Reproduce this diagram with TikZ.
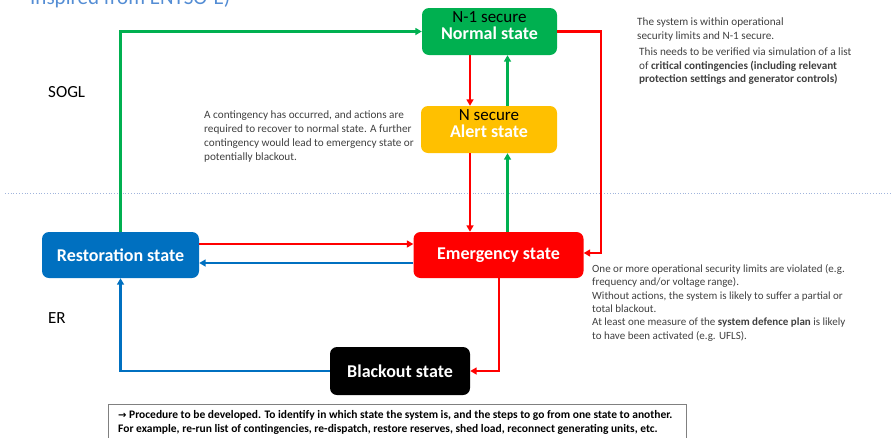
\documentclass[tikz,border=0pt]{standalone}
\usepackage{fontspec}
\setmainfont{Carlito}
\usetikzlibrary{arrows.meta}
\definecolor{cgreen}{RGB}{0,176,80}
\definecolor{cyellow}{RGB}{255,192,0}
\definecolor{cred}{RGB}{255,0,0}
\definecolor{cblue}{RGB}{0,112,192}
\definecolor{ctitle}{RGB}{84,141,212}
\definecolor{cdot}{RGB}{160,180,220}
\definecolor{ctext}{RGB}{64,64,64}
\tikzset{
  statebox/.style={rounded corners=7pt, minimum width=#1, inner sep=0pt},
  topline/.style={font=\fontsize{17}{17}\selectfont, text=black, inner sep=0pt},
  mainline/.style={font=\fontsize{18}{18}\selectfont\bfseries, text=white, inner sep=0pt},
  desc/.style={font=\fontsize{11.2}{13.4}\selectfont, text=ctext, align=left, anchor=north west, inner sep=0pt},
  sidelabel/.style={anchor=west, inner sep=0pt, font=\fontsize{17}{17}\selectfont},
  conn/.style={line width=2.2pt, -{Triangle[length=6.5pt,width=7pt]}},
}
\begin{document}
\begin{tikzpicture}[x=1pt,y=-1pt]
\useasboundingbox (0,0) rectangle (892,437);

% title (cut at top, as in the reference)
\node[anchor=base west, inner sep=0pt, text=ctitle, font=\fontsize{21}{21}\selectfont] (title) at (30,4) {Inspired from ENTSO-E)};

% dotted separator
\coordinate (sepL) at (5,193);
\coordinate (sepR) at (892,193);
\draw[cdot, line width=0.8pt, dotted] (sepL) -- (sepR);

% labels
\node[sidelabel] (sogl) at (48,92) {SOGL};
\node[sidelabel] (er) at (48,318) {ER};

% state boxes
\node[statebox=135pt, minimum height=47pt, fill=cgreen] (normal) at (489.5,31.5) {};
\node[topline] (normalA) at ([yshift=-9.5pt]normal.north) {N-1 secure};
\node[mainline] (normalB) at ([yshift=-25pt]normal.north) {Normal state};

\node[statebox=136pt, minimum height=47pt, fill=cyellow] (alert) at (489,129.5) {};
\node[topline] (alertA) at ([yshift=-9.5pt]alert.north) {N secure};
\node[mainline] (alertB) at ([yshift=-25pt]alert.north) {Alert state};

\node[statebox=170pt, minimum height=46pt, fill=cred] (emer) at (498.5,255) {};
\node[mainline] (emerT) at (emer.center) {Emergency state};

\node[statebox=157pt, minimum height=46pt, fill=cblue] (rest) at (120.5,255) {};
\node[mainline] (restT) at (rest.center) {Restoration state};

\node[statebox=140pt, minimum height=48pt, fill=black] (black) at (400,371) {};
\node[mainline] (blackT) at (black.center) {Blackout state};

% helper coordinates
\coordinate (xr) at (470,0);
\coordinate (xg) at (507.5,0);
\coordinate (xrr) at (601,0);
\coordinate (xb) at (499,0);
\coordinate (yr) at (0,244);
\coordinate (yb) at (0,263);
\coordinate (ye) at (0,253);

% connectors
\draw[conn, cgreen] (rest.north) |- (normal.west);
\draw[conn, cred] (normal.south -| xr) -- (alert.north -| xr);
\draw[conn, cgreen] (alert.north -| xg) -- (normal.south -| xg);
\draw[conn, cred] (alert.south -| xr) -- (emer.north -| xr);
\draw[conn, cgreen] (emer.north -| xg) -- (alert.south -| xg);
\draw[conn, cred] (normal.east) -| (xrr |- ye) -- (emer.east |- ye);
\draw[conn, cred] (rest.east |- yr) -- (emer.west |- yr);
\draw[conn, cblue] (emer.west |- yb) -- (rest.east |- yb);
\draw[conn, cred] (emer.south -| xb) |- (black.east);
\draw[conn, cblue] (black.west) -| (rest.south);

% descriptions
\node[desc] (d1) at (637,18) {The system is within operational\\security limits and N-1 secure.};
\node[desc] (d2) at (639,48) {This needs to be verified via simulation of a list\\of \textbf{critical contingencies (including relevant}\\\textbf{protection settings and generator controls)}};
\node[desc, font=\fontsize{11.2}{14}\selectfont] (d3) at (204,111) {A contingency has occurred, and actions are\\required to recover to normal state. A further\\contingency would lead to emergency state or\\potentially blackout.};
\node[desc, font=\fontsize{11}{13.4}\selectfont] (d4) at (592,264) {One or more operational security limits are violated (e.g.\\frequency and/or voltage range).\\Without actions, the system is likely to suffer a partial or\\total blackout.\\At least one measure of the \textbf{system defence plan} is likely\\to have been activated (e.g. UFLS).};

% bottom box
\draw[gray, line width=0.8pt] (108,404) rectangle (686,450);
\node[desc, text=black, font=\fontsize{11.5}{14}\selectfont\bfseries] (proc) at (118,410) {{\fontspec{DejaVu Sans}\fontsize{10}{14}\selectfont →} Procedure to be developed. To identify in which state the system is, and the steps to go from one state to another.\\For example, re-run list of contingencies, re-dispatch, restore reserves, shed load, reconnect generating units, etc.};
\end{tikzpicture}
\end{document}
